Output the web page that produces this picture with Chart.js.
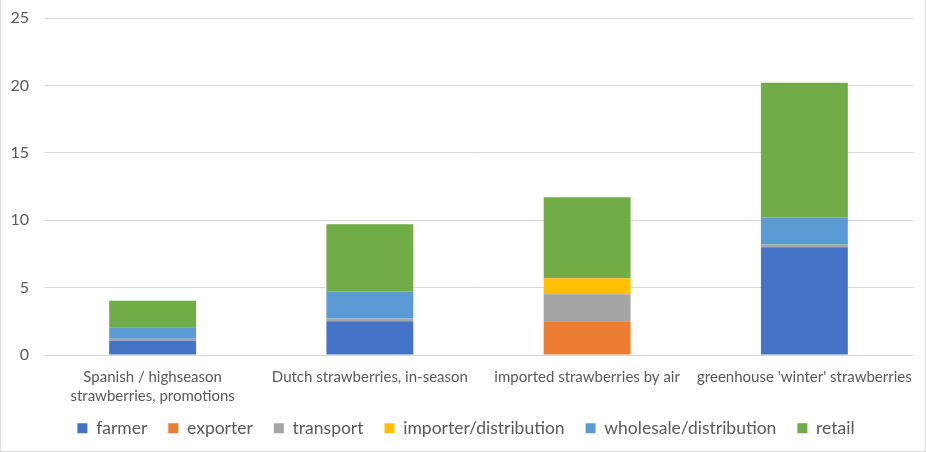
<!DOCTYPE html>
<html>
<head>
<meta charset="utf-8">
<script src="https://cdn.jsdelivr.net/npm/chart.js@4"></script>
<style>
  html, body { margin: 0; padding: 0; background: #fff; }
  #wrap {
    position: relative; width: 926px; height: 452px; box-sizing: border-box;
    border-left: 1px solid #d9d9d9; border-right: 1px solid #d9d9d9; border-bottom: 1px solid #d9d9d9;
  }
</style>
</head>
<body>
<div id="wrap"><canvas id="chart"></canvas></div>
<script>
// categories (x axis)
const categories = [
    ['Spanish / highseason', 'strawberries, promotions'],
    'Dutch strawberries, in-season',
    'imported strawberries by air',
    "greenhouse 'winter' strawberries"
];

// cost build-up per step in the chain
const farmer = [1.05, 2.5, 0, 8.0];
const exporter = [0, 0, 2.5, 0];
const transport = [0.15, 0.2, 2.0, 0.2];
const importer = [0, 0, 1.2, 0];
const wholesale = [0.85, 2.0, 0, 2.0];
const retail = [1.98, 5.0, 6.0, 10.0];

const yTicks = [0, 5, 10, 15, 20, 25];

const textColor = '#595959';
const fontFamily = 'Lato, "Open Sans", sans-serif';
const plotTop = 18;

// let the two-line category label run into the legend band instead of being clipped
if (Chart.Scale && Chart.Scale.prototype._computeLabelArea) {
    Chart.Scale.prototype._computeLabelArea = function () { return undefined; };
}

// small layout fixes: legend a bit to the right, plot top at the reference height
const layoutFix = {
    id: 'layoutFix',
    afterLayout(chart) {
        if (chart.legend) {
            chart.legend.left += 9;
            chart.legend.right += 9;
        }
        const y = chart.scales.y;
        const area = chart.chartArea;
        if (y && area.top > plotTop) {
            const d = area.top - plotTop;
            area.top = plotTop;
            area.height += d;
            y.top = plotTop;
            y.height += d;
            y.configure();
        }
    }
};

function makeSet(label, data, color) {
    return {
        label: label,
        data: data,
        backgroundColor: color,
        borderWidth: 0,
        categoryPercentage: 1.0,
        barPercentage: 0.4
    };
}

const ctx = document.getElementById('chart').getContext('2d');
new Chart(ctx, {
    type: 'bar',
    data: {
        labels: categories,
        datasets: [
            makeSet('farmer', farmer, '#4472C4'),
            makeSet('exporter', exporter, '#ED7D31'),
            makeSet('transport', transport, '#A5A5A5'),
            makeSet('importer/distribution', importer, '#FFC000'),
            makeSet('wholesale/distribution', wholesale, '#5B9BD5'),
            makeSet('retail', retail, '#70AD47')
        ]
    },
    plugins: [layoutFix],
    options: {
        responsive: true,
        maintainAspectRatio: false,
        animation: false,
        layout: { padding: { top: 3, right: 12, left: 0, bottom: 4 } },
        plugins: {
            tooltip: { enabled: false },
            legend: {
                position: 'bottom',
                labels: {
                    color: textColor,
                    font: { family: fontFamily, size: 17.5 },
                    boxWidth: 10,
                    boxHeight: 10,
                    padding: 21
                }
            }
        },
        scales: {
            x: {
                stacked: true,
                grid: { display: false },
                border: { display: false },
                ticks: {
                    color: textColor,
                    font: { family: fontFamily, size: 15, lineHeight: 1.3 },
                    maxRotation: 0,
                    autoSkip: false,
                    padding: 4
                },
                // keep the plot bottom where the reference has it
                afterFit: scale => {
                    scale.height = 92 - scale.chart.legend.height;
                }
            },
            y: {
                stacked: true,
                min: 0,
                max: 25,
                afterBuildTicks: axis => {
                    axis.ticks = yTicks.map(v => ({ value: v }));
                },
                grid: { color: '#d9d9d9', drawTicks: false },
                border: { display: false },
                ticks: {
                    color: textColor,
                    font: { family: fontFamily, size: 16 },
                    padding: 15
                },
                afterFit: scale => {
                    scale.width = 43;
                }
            }
        }
    }
});
</script>
</body>
</html>
